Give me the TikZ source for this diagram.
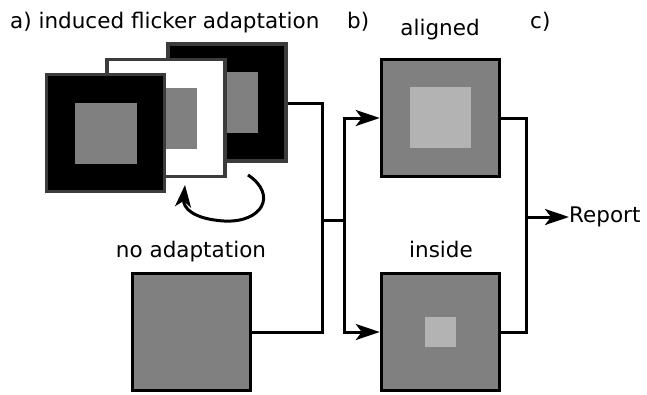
\documentclass[tikz,border=0pt]{standalone}
\usepackage{fontspec}
\setmainfont{DejaVu Sans}
\usetikzlibrary{arrows.meta}
\definecolor{midgray}{HTML}{808080}
\definecolor{lightgray2}{HTML}{B3B3B3}
\definecolor{framegray}{HTML}{3C3C3C}
\begin{document}
\begin{tikzpicture}[x=1pt,y=-1pt,
  lbl/.style={font=\fontsize{21.5}{25}\selectfont, inner sep=0pt},
  frameblack/.style={draw=framegray, fill=black, line width=3.2pt, minimum width=118pt, minimum height=117pt, inner sep=0pt},
  framewhite/.style={draw=framegray, fill=white, line width=3.2pt, minimum width=118pt, minimum height=117pt, inner sep=0pt},
  bigbox/.style={draw=black, fill=midgray, line width=3.5pt, minimum width=118pt, minimum height=117pt, inner sep=0pt},
  innersq/.style={fill=midgray, minimum width=62pt, minimum height=61pt, inner sep=0pt},
  lightsq/.style={fill=lightgray2, inner sep=0pt},
  conn/.style={line width=3pt, line join=miter},
  arr/.style={conn, -{Stealth[length=24pt, width=16pt, inset=6pt]}}
]
\useasboundingbox (0,0) rectangle (647,394);
% labels
\node[lbl, anchor=base west] (la) at (10,28) {a) induced flicker adaptation};
\node[lbl, anchor=base west] (lb) at (347,28) {b)};
\node[lbl, anchor=base west] (lc) at (530,28) {c)};
\node[lbl, anchor=base] (lal) at (440,35) {aligned};
\node[lbl, anchor=base] (lno) at (191,257) {no adaptation};
\node[lbl, anchor=base] (lin) at (441,257) {inside};
% adaptation frames
\node[frameblack] (f3) at (227,102.5) {};
\node[innersq] (f3i) at (227,102.5) {};
\node[framewhite] (f2) at (166,118) {};
\node[innersq] (f2i) at (166,118) {};
\node[frameblack] (f1) at (105.5,133) {};
\node[innersq] (f1i) at (105.5,133) {};
% curved arrow
\coordinate (cs) at (248,175);
\coordinate (ce) at (185,185);
\draw[line width=3pt, -{Stealth[length=22pt, width=16pt, inset=6pt]}]
  (cs) .. controls (278,195) and (262,223) .. (224,221)
       .. controls (192,219) and (183,207) .. (ce);
% no adaptation box
\node[bigbox] (na) at (191.5,332) {};
% aligned / inside
\node[bigbox] (al) at (440.5,118) {};
\node[lightsq, minimum width=61pt, minimum height=61pt] (ali) at (440.5,117.5) {};
\node[bigbox] (in) at (440.5,332) {};
\node[lightsq, minimum width=31pt, minimum height=30pt] (ini) at (440.5,332) {};
% connectors
\coordinate (j1) at (322,220);
\coordinate (j2) at (344,220);
\draw[conn] (f3.east |- 0,103) -| (j1) |- (na.east);
\draw[conn] (j1) -- (j2);
\draw[arr] (j2) |- (al.west);
\draw[arr] (j2) |- (in.west);
\coordinate (r1) at (526,217);
\draw[conn] (al.east) -| (r1) |- (in.east);
\node[lbl, anchor=west] (rep) at (569,217) {Report};
\draw[arr] (r1) -- (rep.west);
\end{tikzpicture}
\end{document}
